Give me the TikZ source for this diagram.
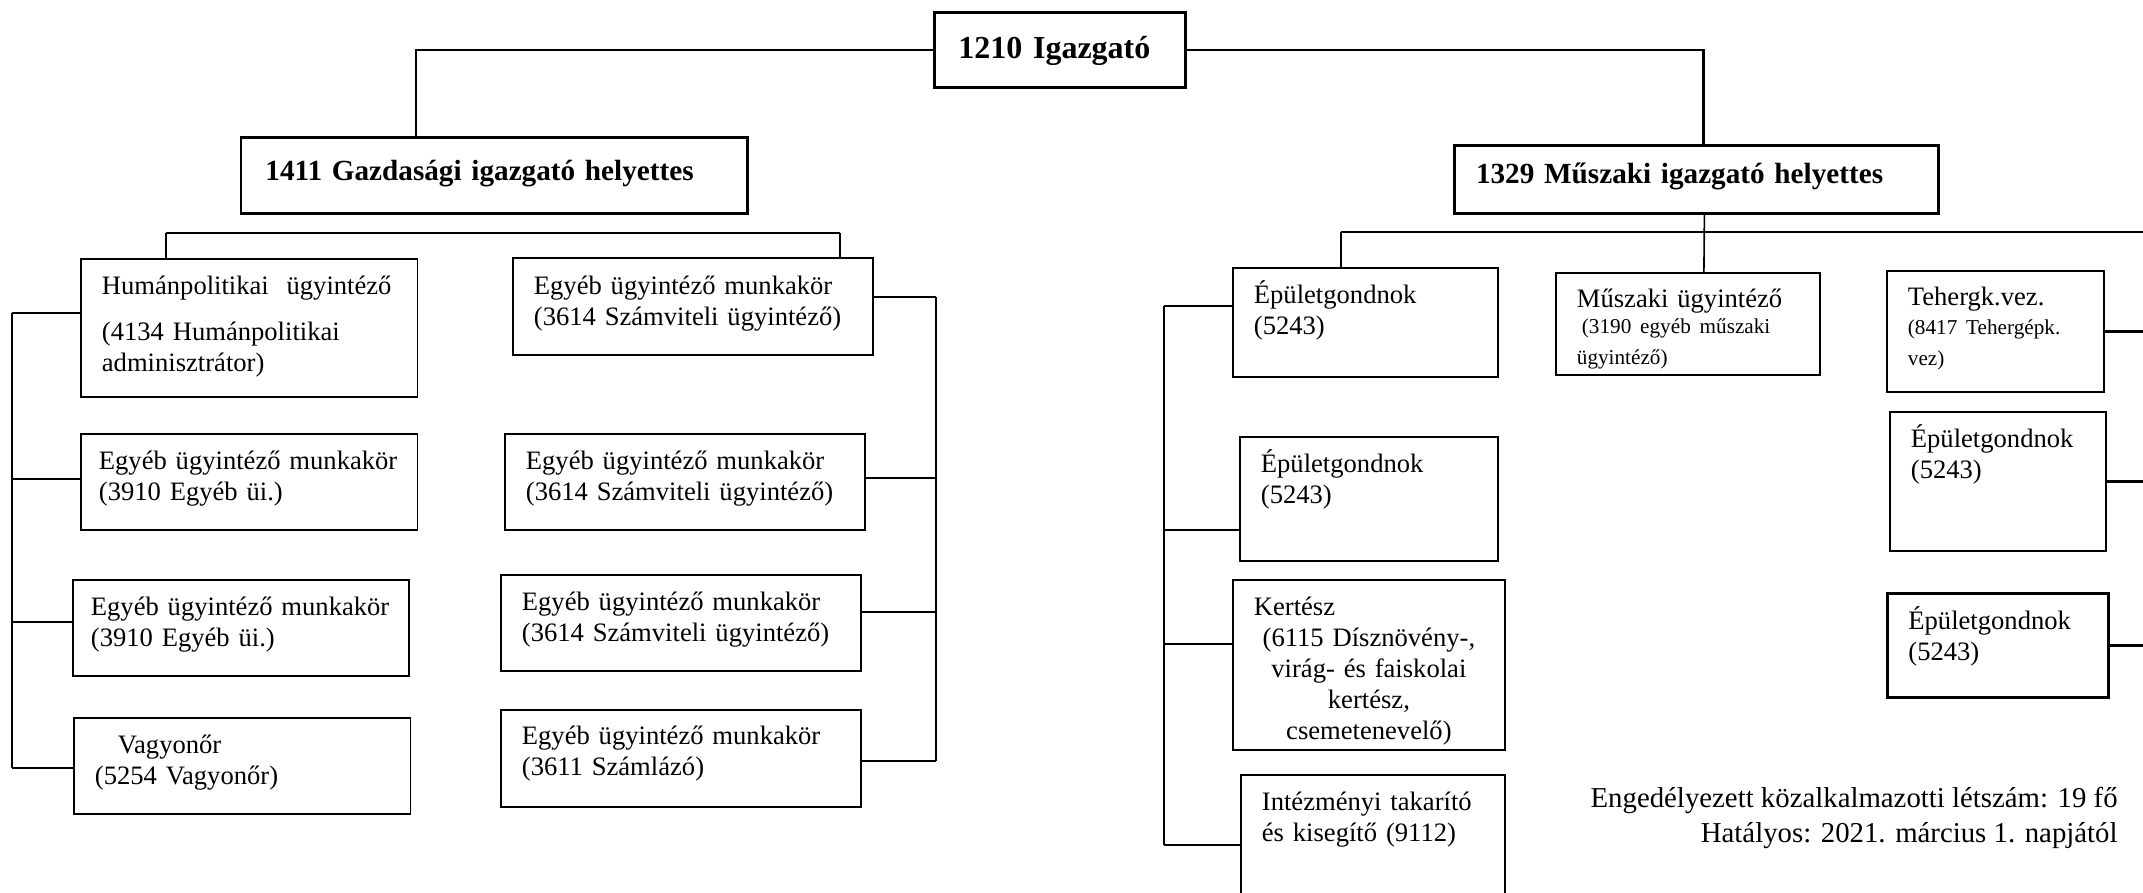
\documentclass[tikz,border=0pt]{standalone}
\usepackage{fontspec}
\setmainfont{Liberation Serif}
\usepackage{tikz}

\newcommand{\kicsi}{\fontsize{10.6}{12}\selectfont}

\begin{document}
\begin{tikzpicture}[x=0.5pt, y=-0.5pt,
    font=\fontsize{13.3}{15.4}\selectfont,
    head/.style={draw, rectangle, anchor=north west, line width=1.4pt, inner ysep=0pt, align=left, font=\bfseries\fontsize{14.6}{17}\selectfont},
    job/.style={draw, rectangle, anchor=north west, line width=0.9pt, inner xsep=10.5pt, inner ysep=0pt, align=left},
    bus/.style={line width=1.3pt},
    drop/.style={line width=0.8pt}]
    \clip (0,0) rectangle (2143,893);

    \node (igazgato) [head, font=\bfseries\fontsize{16}{19}\selectfont, inner xsep=12pt, text width=101.5pt, text height=23pt, text depth=14.5pt] at (933,11) {1210 Igazgató};
    \node (gazd) [head, inner xsep=12.25pt, text width=228.75pt, text height=21.5pt, text depth=16.5pt] at (239.5,136) {1411 Gazdasági igazgató helyettes};
    \node (musz) [head, inner xsep=10.8pt, text width=220.4pt, text height=19pt, text depth=15pt] at (1453,144) {1329 Műszaki igazgató helyettes};

    % gazdasági oldal
    \node (hum) [job, text width=147.25pt, text height=18pt, text depth=51pt] at (80,258) {Humánpolitikai\ \ ügyintéző\\[7.6pt](4134 Humánpolitikai\\adminisztrátor)};
    \node (egy1) [job, inner xsep=9pt, text width=150.25pt, text height=18pt, text depth=30pt] at (80,433) {Egyéb ügyintéző munkakör\\(3910 Egyéb üi.)};
    \node (egy2) [job, inner xsep=9pt, text width=150pt, text height=18pt, text depth=30pt] at (72,579) {Egyéb ügyintéző munkakör\\(3910 Egyéb üi.)};
    \node (vagy) [job, text width=147.25pt, text height=18pt, text depth=30pt] at (73,717) {\hspace*{11.5pt}Vagyonőr\\(5254 Vagyonőr)};

    \node (r1) [job, text width=159pt, text height=18.5pt, text depth=30pt] at (512,257) {Egyéb ügyintéző munkakör\\(3614 Számviteli ügyintéző)};
    \node (r2) [job, text width=159pt, text height=18pt, text depth=30pt] at (504,433) {Egyéb ügyintéző munkakör\\(3614 Számviteli ügyintéző)};
    \node (r3) [job, text width=159pt, text height=18pt, text depth=30pt] at (500,574) {Egyéb ügyintéző munkakör\\(3614 Számviteli ügyintéző)};
    \node (r4) [job, text width=159pt, text height=17.5pt, text depth=31pt] at (500,709) {Egyéb ügyintéző munkakör\\(3611 Számlázó)};

    % műszaki oldal
    \node (epul1) [job, text width=111.5pt, text height=18pt, text depth=36.5pt] at (1232,267) {Épületgondnok\\(5243)};
    \node (epul2) [job, text width=108pt, text height=18pt, text depth=44pt] at (1239,436) {Épületgondnok\\(5243)};
    \node (kertesz) [job, align=center, text width=115pt, text height=18pt, text depth=67pt] at (1232,579) {Kertész\hspace*{\fill}\null\\(6115 Dísznövény-,\\virág- és faiskolai\\kertész,\\csemetenevelő)};
    \node (intez) [job, text width=111pt, text height=18pt, text depth=66pt] at (1240,774) {Intézményi takarító\\és kisegítő (9112)};

    \node (muszugy) [job, text width=111pt, text height=17.5pt, text depth=33.5pt] at (1555,272) {Műszaki ügyintéző\\[1pt]\kicsi\hspace*{2.5pt}(3190 egyéb műszaki\\ügyintéző)};

    \node (tehergk) [job, text width=87.5pt, text height=17.5pt, text depth=43pt] at (1886,270) {Tehergk.vez.\\\fontsize{10.6}{14.5}\selectfont(8417 Tehergépk.\\vez)};
    \node (repul2) [job, text width=87pt, text height=18pt, text depth=51.5pt] at (1889,411) {Épületgondnok\\(5243)};
    \node (repul3) [job, line width=1.4pt, text width=89.5pt, text height=18pt, text depth=34pt] at (1886,592) {Épületgondnok\\(5243)};

    \node (letszam) [anchor=north east, align=right, inner sep=0pt, font=\fontsize{14.4}{17.5}\selectfont] at (2118,787) {Engedélyezett közalkalmazotti létszám: 19 fő\\Hatályos: 2021. március 1. napjától};

    % igazgató -> helyettesek
    \draw[line width=1.1pt] (igazgato.west) -| ([xshift=-38.9pt]gazd.north);
    \draw[line width=1.1pt] (igazgato.east) -| ([xshift=3.5pt]musz.north);

    % gazdasági busz
    \coordinate (gb1) at (166,233);
    \coordinate (gb2) at (840,233);
    \draw[bus] (gb1) -- (gb2);
    \draw[drop] (gb1) -- (gb1 |- hum.north);
    \draw[drop] (gb2) -- (gb2 |- r1.north);

    \coordinate (gl1) at (12,313);
    \coordinate (gl2) at (12,479);
    \coordinate (gl3) at (12,622);
    \coordinate (gl4) at (12,768);
    \draw[bus] (gl1) -- (gl4);
    \draw[bus] (gl1) -- (gl1 -| hum.west);
    \draw[bus] (gl2) -- (gl2 -| egy1.west);
    \draw[bus] (gl3) -- (gl3 -| egy2.west);
    \draw[bus] (gl4) -- (gl4 -| vagy.west);

    \coordinate (gr1) at (936,297);
    \coordinate (gr2) at (936,478);
    \coordinate (gr3) at (936,612);
    \coordinate (gr4) at (936,761);
    \draw[bus] (gr1) -- (gr4);
    \draw[bus] (gr1) -- (gr1 -| r1.east);
    \draw[bus] (gr2) -- (gr2 -| r2.east);
    \draw[bus] (gr3) -- (gr3 -| r3.east);
    \draw[bus] (gr4) -- (gr4 -| r4.east);

    % műszaki busz
    \draw[drop] ([xshift=4pt]musz.south) -- ([xshift=8pt]muszugy.north);
    \coordinate (mb1) at (1341,232);
    \coordinate (mb2) at (2170,232);
    \draw[bus] (mb1) -- (mb2);
    \draw[drop] (mb1) -- (mb1 |- epul1.north);
    \draw[bus] (mb2) -- (mb2 |- repul3.east);
    \draw[bus] (tehergk.east) -- (tehergk.east -| mb2);
    \draw[bus] (repul2.east) -- (repul2.east -| mb2);
    \draw[bus] (repul3.east) -- (repul3.east -| mb2);

    \coordinate (ml1) at (1164,306);
    \coordinate (ml2) at (1164,530);
    \coordinate (ml3) at (1164,644);
    \coordinate (ml4) at (1164,845);
    \draw[bus] (ml1) -- (ml4);
    \draw[bus] (ml1) -- (ml1 -| epul1.west);
    \draw[bus] (ml2) -- (ml2 -| epul2.west);
    \draw[bus] (ml3) -- (ml3 -| kertesz.west);
    \draw[bus] (ml4) -- (ml4 -| intez.west);
\end{tikzpicture}
\end{document}
